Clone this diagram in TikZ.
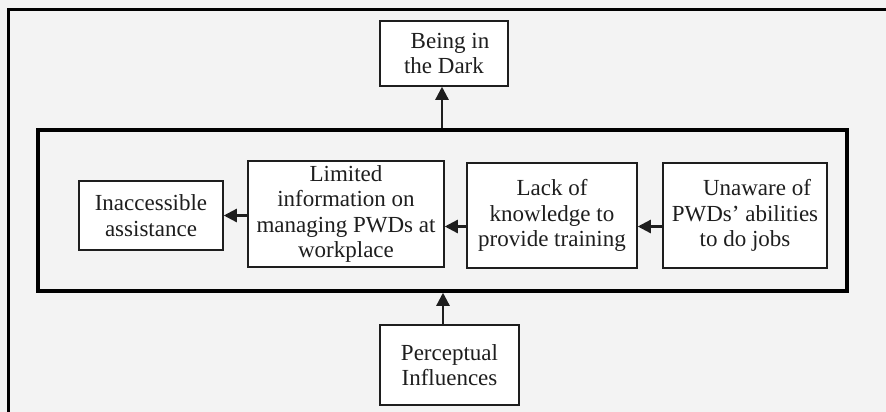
\documentclass[tikz,border=0pt]{standalone}
\usepackage{fontspec}
\setmainfont{Liberation Serif}
\usetikzlibrary{arrows.meta}
\definecolor{bggray}{HTML}{F3F3F3}
\definecolor{ink}{HTML}{1E1E1E}
\tikzset{
  box/.style={draw=ink, line width=1.5pt, fill=white, align=center, inner sep=0pt,
    font=\fontsize{23}{25.5}\selectfont, text=ink},
  arr/.style={draw=ink, line width=2.3pt, -{Triangle[length=13pt,width=13pt]}},
}
\begin{document}
\begin{tikzpicture}[x=1pt,y=-1pt]
  % canvas
  \fill[bggray] (0,0) rectangle (886,412);
  \useasboundingbox (0,0) rectangle (886,412);
  % outer frame (top and left edges)
  \draw[line width=2.2pt, black] (8.5,412) -- (8.5,9.5) -- (886,9.5);

  % grouping frame
  \node[draw=black, line width=3.5pt, minimum width=809pt, minimum height=161pt,
        inner sep=0pt] (frame) at (442.5,210.5) {};

  % boxes
  \node[box, minimum width=128pt, minimum height=65pt] (being) at (444,53.5)
    {\hspace*{12pt}Being in\\the Dark};
  \node[box, minimum width=144pt, minimum height=69pt] (inacc) at (151,215.5)
    {Inaccessible\\assistance};
  \node[box, minimum width=196pt, minimum height=106pt] (limited) at (346,214)
    {Limited\\information on\\managing PWDs at\\workplace};
  \node[box, minimum width=170pt, minimum height=105pt] (lack) at (552,215.5)
    {Lack of\\knowledge to\\provide training};
  \node[box, minimum width=164pt, minimum height=105pt] (unaware) at (745,215.5)
    {\hspace*{24pt}Unaware of\\PWDs’ abilities\\to do jobs};
  \node[box, minimum width=139pt, minimum height=80pt] (percep) at (449.5,365)
    {Perceptual\\Influences};

  % connectors
  \draw[arr] (frame.north -| being.south) ++(-2,0) coordinate (ftop) -- (ftop |- being.south);
  \draw[arr] ([yshift=-11pt]unaware.west) -- ([yshift=-11pt]unaware.west -| lack.east);
  \draw[arr] ([yshift=-11pt]lack.west) -- ([yshift=-11pt]lack.west -| limited.east);
  \draw[arr] ([yshift=-1.5pt]limited.west) -- ([yshift=-1.5pt]limited.west -| inacc.east);
  \draw[arr] ([xshift=-6.5pt]percep.north) -- ([xshift=-6.5pt]percep.north |- frame.south);
\end{tikzpicture}
\end{document}
